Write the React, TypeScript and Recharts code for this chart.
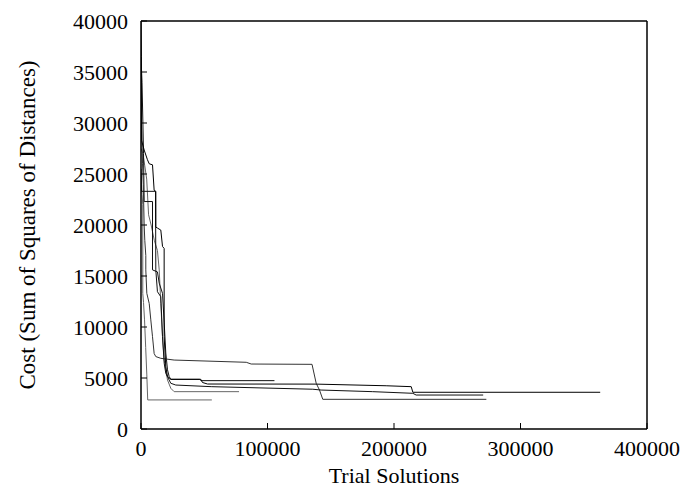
import React from "react";
import { LineChart, Line, XAxis, YAxis } from "recharts";

// tick values
const xTicks = [0, 100000, 200000, 300000, 400000];
const yTicks = [0, 5000, 10000, 15000, 20000, 25000, 30000, 35000, 40000];

// each run: [trial solutions, cost]
const runA = [
  [0, 25000], [800, 23000], [1400, 22000], [1400, 13300], [2000, 12400],
  [2800, 10700], [3700, 8000], [4600, 5300], [5300, 2850], [56000, 2850],
];
const runB = [
  [0, 27500], [1500, 27000], [3000, 25800], [4500, 24500], [6000, 21000],
  [8000, 20000], [10500, 18500], [13000, 17500], [14400, 15600], [15650, 12300],
  [17000, 9050], [18340, 6760], [20950, 4800], [23560, 3990], [26200, 3660],
  [77500, 3660],
];
const runC = [
  [0, 36500], [800, 34000], [1500, 30000], [2000, 27000], [2500, 22300],
  [9100, 22300], [9100, 15600], [13000, 15400], [14400, 14300], [17000, 13300],
  [18340, 10400], [19600, 7450], [20950, 5800], [22300, 5130], [23600, 4870],
  [46200, 4870], [47600, 4740], [105500, 4740],
];
const runD = [
  [0, 31000], [700, 29000], [1200, 26000], [1800, 24000], [2500, 20000],
  [3000, 18500], [3800, 17000], [3800, 15600], [4600, 13300], [6500, 12300],
  [7750, 10700], [9100, 9050], [10400, 7400], [11700, 7100], [15650, 6930],
  [26200, 6760], [83200, 6540], [87100, 6370], [135200, 6340], [138500, 4480],
  [141100, 3820], [143700, 2910], [273000, 2910],
];
const runE = [
  [0, 25500], [300, 23300], [11500, 23300], [11700, 15600], [13000, 13460],
  [15650, 12970], [17000, 9050], [18340, 6440], [19600, 5460], [23560, 4480],
  [27500, 4310], [55500, 4150], [135800, 3900], [142400, 3820], [183200, 3660],
  [214900, 3500], [217500, 3330], [270500, 3330],
];
const runF = [
  [0, 40000], [300, 36500], [400, 28300], [2500, 27350], [5100, 26400],
  [6500, 26000], [9100, 25900], [10400, 23400], [11700, 23300], [11700, 19800],
  [13000, 19700], [15650, 19500], [17000, 17900], [18300, 17700], [18300, 9050],
  [19600, 6100], [20900, 5170], [23500, 4870], [47300, 4870], [48600, 4560],
  [52600, 4410], [138500, 4400], [193800, 4240], [213600, 4150], [214900, 3600],
  [363000, 3600],
];

const runs = [
  { name: "A", points: runA, color: "#666" },
  { name: "B", points: runB, color: "#666" },
  { name: "C", points: runC, color: "#111" },
  { name: "D", points: runD, color: "#333" },
  { name: "E", points: runE, color: "#111" },
  { name: "F", points: runF, color: "#000" },
];

const font = "'Liberation Serif', 'DejaVu Serif', serif";
const tickStyle = { fontFamily: font, fontSize: 22, fill: "#000" };
const frame = { stroke: "#000", strokeWidth: 1.5 };

export default function App() {
  return (
    <div style={{ position: "absolute", left: 0, top: 0, background: "#fff" }}>
      <LineChart
        width={688}
        height={491}
        margin={{ top: 20, right: 40, bottom: 0, left: 0 }}
      >
        <XAxis
          type="number"
          dataKey="x"
          domain={[0, 400000]}
          ticks={xTicks}
          allowDataOverflow
          height={62}
          tickSize={-6}
          tickMargin={17}
          tick={tickStyle}
          axisLine={frame}
          tickLine={{ stroke: "#000" }}
          label={({ viewBox }: any) => (
            <text
              x={viewBox.x + viewBox.width / 2}
              y={viewBox.y + 54}
              textAnchor="middle"
              fontFamily={font}
              fontSize={22}
              fill="#000"
            >
              Trial Solutions
            </text>
          )}
        />
        <XAxis
          xAxisId="top"
          orientation="top"
          type="number"
          domain={[0, 400000]}
          ticks={xTicks}
          height={1}
          tickSize={-6}
          tick={false}
          axisLine={frame}
          tickLine={{ stroke: "#000" }}
        />
        <YAxis
          type="number"
          domain={[0, 40000]}
          ticks={yTicks}
          allowDataOverflow
          width={141}
          tickSize={-6}
          tickMargin={19}
          tick={tickStyle}
          axisLine={frame}
          tickLine={{ stroke: "#000" }}
          label={({ viewBox }: any) => (
            <text
              x={27}
              y={viewBox.y + viewBox.height / 2}
              transform={`rotate(-90 27 ${viewBox.y + viewBox.height / 2})`}
              textAnchor="middle"
              dominantBaseline="central"
              fontFamily={font}
              fontSize={23}
              fill="#000"
            >
              Cost (Sum of Squares of Distances)
            </text>
          )}
        />
        <YAxis
          yAxisId="right"
          orientation="right"
          type="number"
          domain={[0, 40000]}
          ticks={yTicks}
          width={1}
          tickSize={-6}
          tick={false}
          axisLine={frame}
          tickLine={{ stroke: "#000" }}
        />
        {runs.map((r) => (
          <Line
            key={r.name}
            data={r.points.map(([x, y]) => ({ x, y }))}
            dataKey="y"
            type="linear"
            stroke={r.color}
            strokeWidth={1}
            dot={false}
            activeDot={false}
            isAnimationActive={false}
          />
        ))}
      </LineChart>
    </div>
  );
}
